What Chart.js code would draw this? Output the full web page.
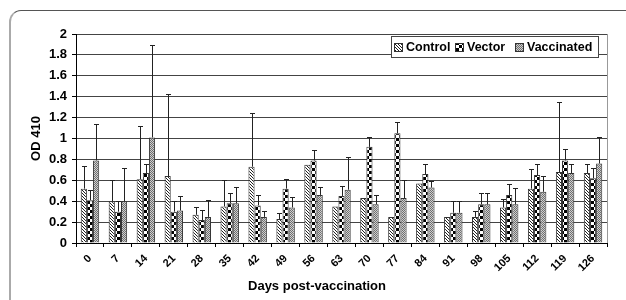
<!DOCTYPE html>
<html>
<head>
<meta charset="utf-8">
<script src="https://cdn.jsdelivr.net/npm/chart.js@4.4.1/dist/chart.umd.min.js"></script>
<style>
  html, body { margin: 0; padding: 0; background: #fff; }
  #wrap { position: relative; width: 626px; height: 300px; overflow: hidden; }
  #frame { position: absolute; left: 9px; top: 10px; width: 660px; height: 340px;
           border-top: 1px solid #555; border-left: 2px solid #aaa; border-top-left-radius: 12px; }
  canvas { position: absolute; left: 0; top: 0; }
</style>
</head>
<body>
<div id="wrap">
  <div id="frame"></div>
  <canvas id="c" width="626" height="300"></canvas>
</div>
<script>
const days = ['0','7','14','21','28','35','42','49','56','63','70','77','84','91','98','105','112','119','126'];
const control    = [0.52,0.40,0.61,0.64,0.27,0.35,0.73,0.23,0.75,0.35,0.43,0.25,0.57,0.25,0.25,0.34,0.52,0.68,0.67];
const vector     = [0.41,0.30,0.67,0.30,0.22,0.38,0.36,0.52,0.79,0.45,0.92,1.05,0.66,0.29,0.37,0.46,0.65,0.79,0.62];
const vaccinated = [0.79,0.40,1.01,0.31,0.25,0.38,0.25,0.34,0.46,0.51,0.37,0.43,0.53,0.29,0.37,0.37,0.49,0.67,0.76];
const controlErr    = [0.74,0.60,1.12,1.43,0.34,0.60,1.24,0.29,null,null,null,null,null,null,0.31,0.42,0.71,1.35,0.755];
const vectorErr     = [0.51,0.40,0.76,0.40,0.32,0.475,0.46,0.61,0.89,0.55,1.01,1.16,0.76,0.40,0.48,0.56,0.755,0.90,0.72];
const vaccinatedErr = [1.14,0.72,1.89,0.45,0.41,0.54,0.31,0.44,0.54,0.82,0.46,0.60,0.59,0.40,0.475,0.53,0.64,0.755,1.01];
const yTickLabels = ['0','0.2','0.4','0.6','0.8','1','1.2','1.4','1.6','1.8','2'];
const seriesNames = ['Control','Vector','Vaccinated'];
const xTitle = 'Days post-vaccination';
const yTitle = 'OD 410';

function makePattern(size, draw) {
  const c = document.createElement('canvas');
  c.width = size; c.height = size;
  const g = c.getContext('2d');
  draw(g);
  return document.getElementById('c').getContext('2d').createPattern(c, 'repeat');
}
const patControl = makePattern(3, g => {
  g.fillStyle = '#fff'; g.fillRect(0,0,3,3);
  g.fillStyle = '#222';
  g.fillRect(0,0,1,1); g.fillRect(1,1,1,1); g.fillRect(2,2,1,1);
});
const patVector = makePattern(6, g => {
  g.fillStyle = '#fff'; g.fillRect(0,0,6,6);
  g.fillStyle = '#000';
  g.fillRect(0,0,3,3); g.fillRect(3,3,3,3);
});
const patVacc = makePattern(2, g => {
  g.fillStyle = '#cfcfcf'; g.fillRect(0,0,2,2);
  g.fillStyle = '#6e6e6e';
  g.fillRect(0,0,1,1); g.fillRect(1,1,1,1);
});
const patterns = [patControl, patVector, patVacc];
const errs = [controlErr, vectorErr, vaccinatedErr];

const FONT = 'Liberation Sans, Arial, sans-serif';

const errorBars = {
  id: 'errorBars',
  afterDatasetsDraw(chart) {
    const ctx = chart.ctx, y = chart.scales.y;
    ctx.save();
    ctx.strokeStyle = '#222';
    ctx.lineWidth = 1;
    chart.data.datasets.forEach((ds, di) => {
      const meta = chart.getDatasetMeta(di);
      meta.data.forEach((bar, i) => {
        const e = errs[di][i];
        if (e == null) return;
        const x = Math.round(bar.x) + 0.5;
        const yt = Math.round(y.getPixelForValue(e)) + 0.5;
        const yb = bar.y;
        ctx.beginPath();
        ctx.moveTo(x, yb); ctx.lineTo(x, yt);
        ctx.moveTo(x - 2.5, yt); ctx.lineTo(x + 2.5, yt);
        ctx.stroke();
      });
    });
    ctx.restore();
  }
};

const plotFrame = {
  id: 'plotFrame',
  beforeDatasetsDraw(chart) {
    const {ctx, chartArea: a} = chart;
    ctx.save();
    ctx.strokeStyle = '#999';
    ctx.lineWidth = 1;
    ctx.beginPath();
    ctx.moveTo(Math.round(a.right) + 0.5, a.top);
    ctx.lineTo(Math.round(a.right) + 0.5, a.bottom);
    ctx.stroke();
    ctx.restore();
  }
};

const boxLegend = {
  id: 'boxLegend',
  afterDraw(chart) {
    const ctx = chart.ctx;
    ctx.save();
    ctx.fillStyle = '#fff';
    ctx.fillRect(391.5, 36.5, 207, 21);
    ctx.strokeStyle = '#444';
    ctx.lineWidth = 1;
    ctx.strokeRect(391.5, 36.5, 207, 21);
    const sq = [394, 455, 515];
    const tx = [406, 467, 527];
    ctx.font = 'bold 12.5px ' + FONT;
    ctx.textBaseline = 'middle';
    ctx.textAlign = 'left';
    chart.data.datasets.forEach((ds, i) => {
      ctx.fillStyle = patterns[i];
      ctx.fillRect(sq[i] + 0.5, 43.5, 8, 8);
      ctx.strokeStyle = '#333';
      ctx.strokeRect(sq[i] + 0.5, 43.5, 8, 8);
      ctx.fillStyle = '#000';
      ctx.fillText(ds.label, tx[i], 47.5);
    });
    ctx.restore();
  }
};

new Chart(document.getElementById('c'), {
  type: 'bar',
  data: {
    labels: days,
    datasets: [control, vector, vaccinated].map((d, i) => ({
      label: seriesNames[i],
      data: d,
      backgroundColor: patterns[i],
      borderColor: '#333',
      borderWidth: 1,
      categoryPercentage: 0.66,
      barPercentage: 1.0
    }))
  },
  options: {
    responsive: false,
    animation: false,
    events: [],
    layout: { padding: { left: 27, right: 19, top: 34, bottom: 0 } },
    plugins: {
      legend: { display: false },
      tooltip: { enabled: false },
      title: {
        display: true, position: 'bottom', text: xTitle, color: '#000',
        font: { family: FONT, size: 13, weight: 'bold' },
        padding: { top: 4, bottom: 6 }
      }
    },
    scales: {
      x: {
        grid: { offset: true, drawOnChartArea: false, drawTicks: true, tickLength: 4, tickColor: '#000' },
        border: { color: '#000' },
        ticks: { color: '#000', font: { family: FONT, size: 11, weight: 'bold' },
                 minRotation: 45, maxRotation: 45, autoSkip: false, padding: 5 },
        afterFit(s) { s.height = 31.4; }
      },
      y: {
        min: 0, max: 2,
        grid: { color: '#444', tickLength: 4, tickColor: '#000' },
        border: { color: '#000' },
        ticks: { stepSize: 0.2, color: '#000', padding: 5,
                 font: { family: FONT, size: 13, weight: 'bold' },
                 callback: v => yTickLabels[Math.round(v / 0.2)] },
        title: { display: true, text: yTitle, color: '#000',
                 font: { family: FONT, size: 13, weight: 'bold' }, padding: { top: 2 } },
        afterFit(s) { s.width = 49; }
      }
    }
  },
  plugins: [plotFrame, errorBars, boxLegend]
});
</script>
</body>
</html>
